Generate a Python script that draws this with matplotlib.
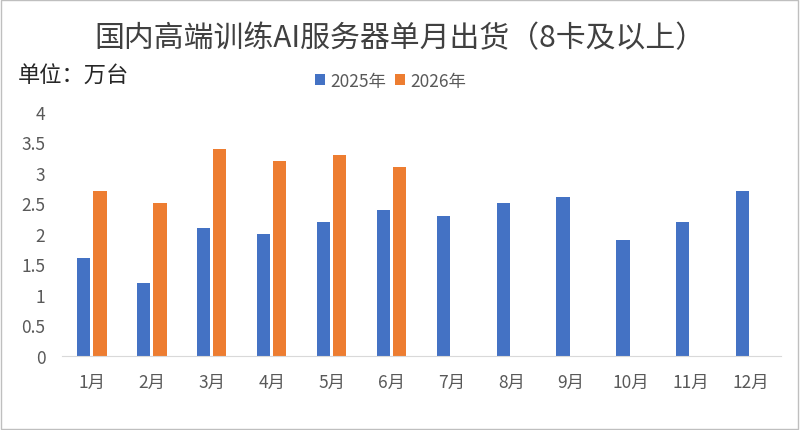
import numpy as np
import matplotlib
matplotlib.use("Agg")
import matplotlib.pyplot as plt
from matplotlib.patches import Rectangle

plt.rcParams['font.family'] = ['Noto Sans CJK SC', 'DejaVu Sans']

months = ['1月', '2月', '3月', '4月', '5月', '6月', '7月', '8月', '9月', '10月', '11月', '12月']
v2025 = [1.6, 1.2, 2.1, 2.0, 2.2, 2.4, 2.3, 2.5, 2.6, 1.9, 2.2, 2.7]
v2026 = [2.7, 2.5, 3.4, 3.2, 3.3, 3.1]
yticks = [0, 0.5, 1, 1.5, 2, 2.5, 3, 3.5, 4]
ytick_labels = ['0', '0.5', '1', '1.5', '2', '2.5', '3', '3.5', '4']

blue = '#4472c4'
orange = '#ed7d31'
gray = '#595959'

fig = plt.figure(figsize=(8, 4.31), dpi=100)
ax = fig.add_axes([0.0775, 0.1717, 0.8985, 0.5663])

x = np.arange(len(months))
w = 0.22
ax.bar(x - 0.135, v2025, width=w, color=blue, label='2025年')
ax.bar(x[:len(v2026)] + 0.135, v2026, width=w, color=orange, label='2026年')

ax.set_xlim(-0.5, len(months) - 0.5)
ax.set_ylim(0, 4)
ax.set_yticks(yticks)
ax.set_yticklabels(ytick_labels)
ax.set_xticks(x)
ax.set_xticklabels(months)
ax.tick_params(axis='both', length=0, labelsize=12.5, colors=gray)
ax.tick_params(axis='y', pad=12)
ax.tick_params(axis='x', pad=12)
for s in ['top', 'right', 'left']:
    ax.spines[s].set_visible(False)
ax.spines['bottom'].set_color('#d9d9d9')

fig.text(0.5, 0.91, '国内高端训练AI服务器单月出货（8卡及以上）', ha='center', va='center',
         fontsize=21.5, color='#404040', fontweight='medium')
fig.text(0.022, 0.822, '单位：万台', ha='left', va='center', fontsize=16, color='#262626')

ax.legend(loc='center', bbox_to_anchor=(0.488, 0.81), bbox_transform=fig.transFigure,
          ncol=2, frameon=False, fontsize=12.5, handlelength=0.6, handleheight=0.6,
          handletextpad=0.3, columnspacing=0.5, labelcolor=gray)

fig.patches.append(Rectangle((0.001, 0.002), 0.997, 0.995, transform=fig.transFigure,
                             fill=False, edgecolor='#bfbfbf', linewidth=1))

fig.savefig('out.png', dpi=100)
